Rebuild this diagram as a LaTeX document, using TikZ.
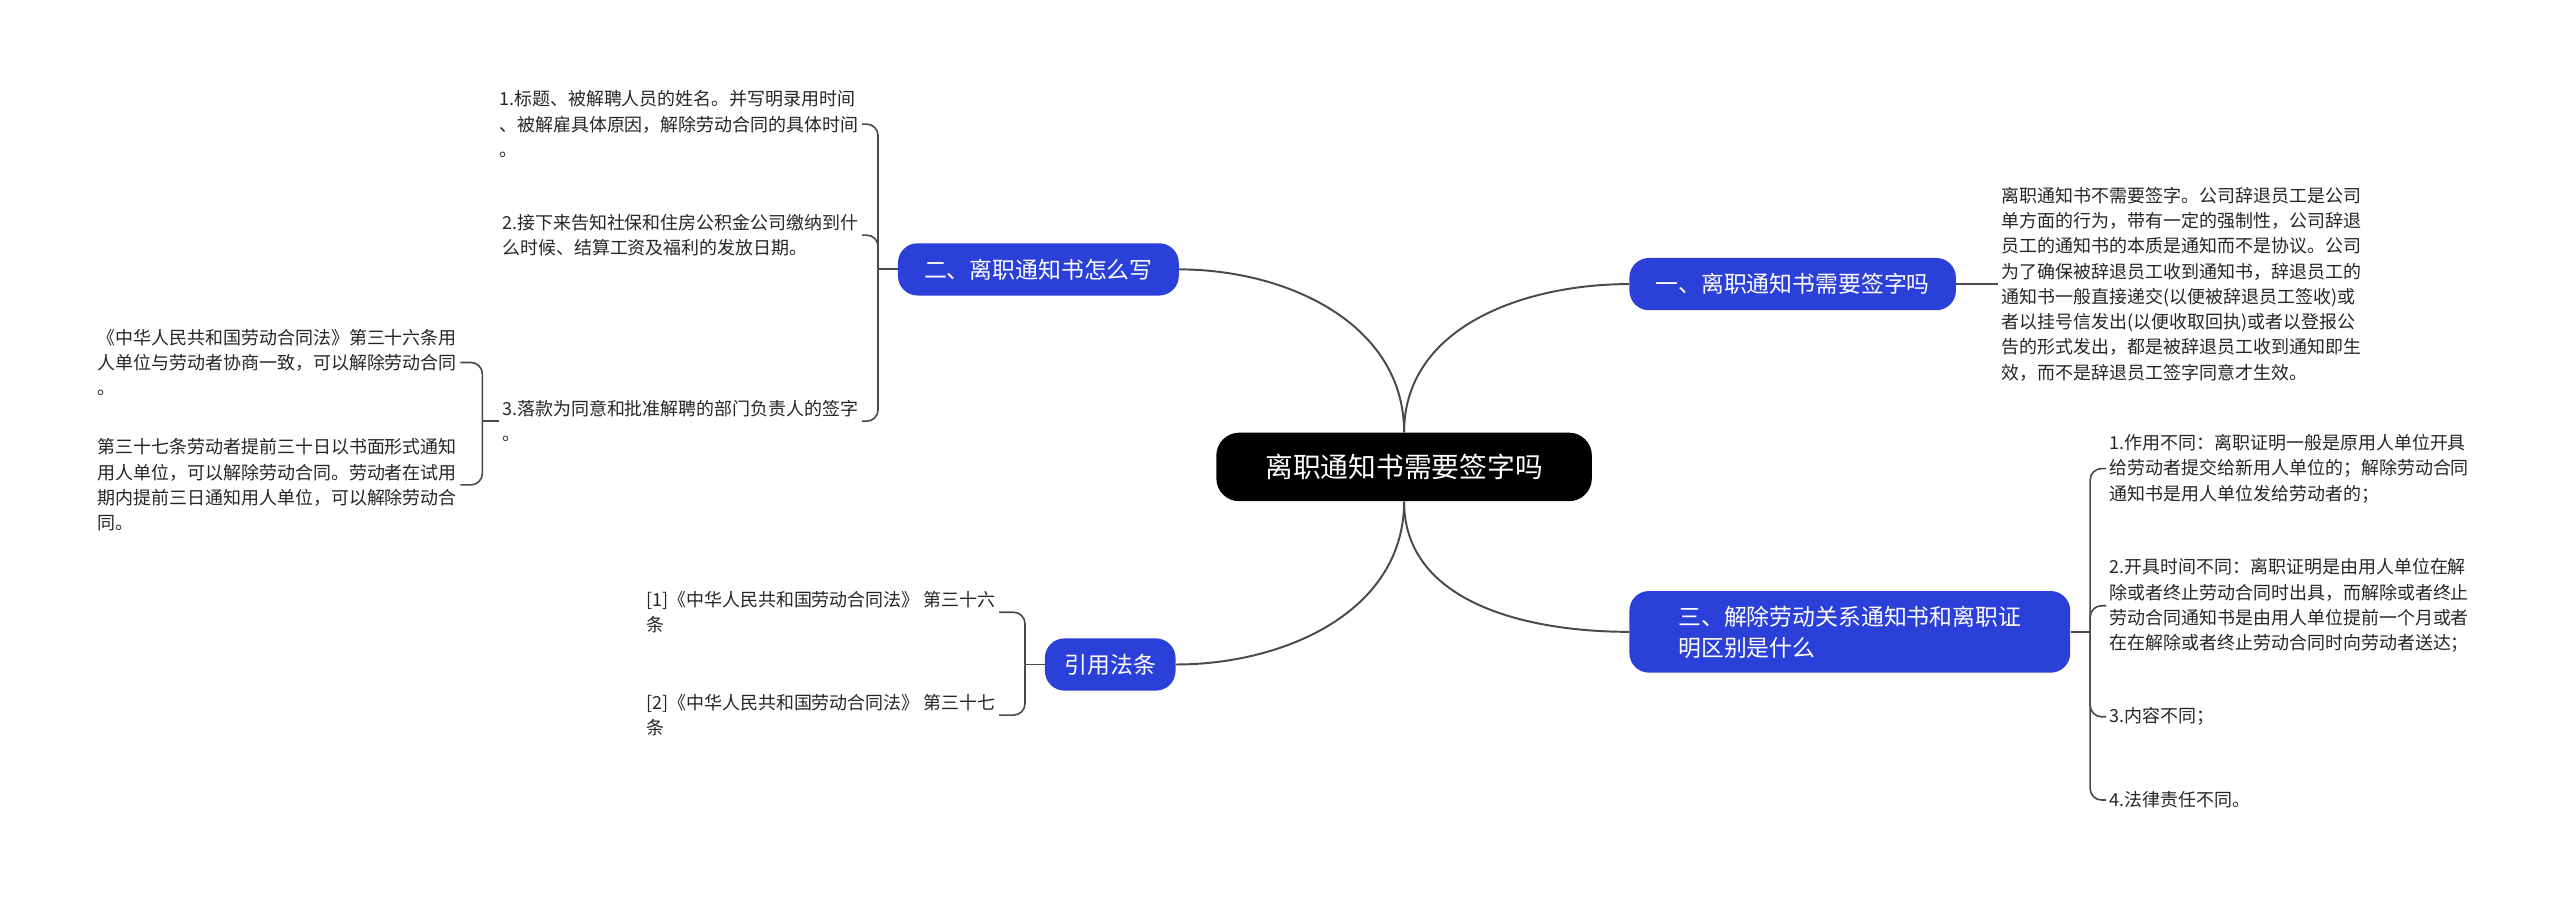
\documentclass[tikz,border=0pt]{standalone}
\usepackage{fontspec}
\setmainfont{Noto Sans CJK SC}
\usetikzlibrary{positioning}
\definecolor{topicblue}{HTML}{2B3FD9}
\definecolor{linegray}{HTML}{4A4A4A}
\tikzset{
  root/.style={fill=black,text=white,rounded corners=14pt,minimum width=230pt,minimum height=42pt,font=\fontsize{17}{20}\selectfont},
  topic/.style={fill=topicblue,text=white,rounded corners=12pt,minimum height=32pt,inner xsep=16pt,font=\fontsize{14}{19}\selectfont,align=left},
  leaf/.style={align=left,inner sep=2pt,font=\fontsize{11}{15.5}\selectfont,text=black!85},
  link/.style={draw=linegray,line width=1.2pt},
  twig/.style={draw=linegray,line width=1pt,rounded corners=7pt}
}
\begin{document}
\begin{tikzpicture}[x=1pt,y=-1pt]
    \useasboundingbox[fill=white] (0,0) rectangle (1568,549);

    \node[root] (root) at (860,286) {离职通知书需要签字吗};

    \node[topic] (b1) at (1098,174) {一、离职通知书需要签字吗};
    \node[topic] (b2) at (636,165) {二、离职通知书怎么写};
    \node[topic,minimum width=270pt,minimum height=50pt] (b3) at (1133,387) {三、解除劳动关系通知书和离职证\\明区别是什么};
    \node[topic,inner xsep=12pt] (b4) at (680,407) {引用法条};

    \draw[link] (root.north) to[out=90,in=180] (b1.west);
    \draw[link] (root.north) to[out=90,in=0] (b2.east);
    \draw[link] (root.south) to[out=-90,in=180] (b3.west);
    \draw[link] (root.south) to[out=-90,in=0] (b4.east);

    % branch 1
    \node[leaf,anchor=west] (l11) at (1224,174) {离职通知书不需要签字。公司辞退员工是公司\\单方面的行为，带有一定的强制性，公司辞退\\员工的通知书的本质是通知而不是协议。公司\\为了确保被辞退员工收到通知书，辞退员工的\\通知书一般直接递交(以便被辞退员工签收)或\\者以挂号信发出(以便收取回执)或者以登报公\\告的形式发出，都是被辞退员工收到通知即生\\效，而不是辞退员工签字同意才生效。};
    \draw[link] (b1.east) -- (l11.west);

    % branch 3
    \node[leaf,anchor=west] (l31) at (1290,287) {1.作用不同：离职证明一般是原用人单位开具\\给劳动者提交给新用人单位的；解除劳动合同\\通知书是用人单位发给劳动者的；};
    \node[leaf,anchor=west] (l32) at (1290,371) {2.开具时间不同：离职证明是由用人单位在解\\除或者终止劳动合同时出具，而解除或者终止\\劳动合同通知书是由用人单位提前一个月或者\\在在解除或者终止劳动合同时向劳动者送达；};
    \node[leaf,anchor=west] (l33) at (1290,439) {3.内容不同；};
    \node[leaf,anchor=west] (l34) at (1290,490) {4.法律责任不同。};
    \draw[link] (b3.east) -- ++(12,0) coordinate (k3);
    \foreach \n in {l31,l32,l33,l34}
        \draw[twig] (k3) |- (\n.west);

    % branch 2
    \node[leaf,anchor=east] (l21) at (528,76) {1.标题、被解聘人员的姓名。并写明录用时间\\、被解雇具体原因，解除劳动合同的具体时间\\。};
    \node[leaf,anchor=east] (l22) at (528,144) {2.接下来告知社保和住房公积金公司缴纳到什\\么时候、结算工资及福利的发放日期。};
    \node[leaf,anchor=east] (l23) at (528,258) {3.落款为同意和批准解聘的部门负责人的签字\\。};
    \draw[link] (b2.west) -- ++(-12,0) coordinate (k2);
    \foreach \n in {l21,l22,l23}
        \draw[twig] (k2) |- (\n.east);

    \node[leaf,anchor=east] (l231) at (282,222) {《中华人民共和国劳动合同法》第三十六条用\\人单位与劳动者协商一致，可以解除劳动合同\\。};
    \node[leaf,anchor=east] (l232) at (282,297) {第三十七条劳动者提前三十日以书面形式通知\\用人单位，可以解除劳动合同。劳动者在试用\\期内提前三日通知用人单位，可以解除劳动合\\同。};
    \draw[link] (l23.west) -- ++(-10,0) coordinate (k23);
    \foreach \n in {l231,l232}
        \draw[twig] (k23) |- (\n.east);

    % branch 4
    \node[leaf,anchor=east] (l41) at (612,375) {[1]《中华人民共和国劳动合同法》 第三十六\\条};
    \node[leaf,anchor=east] (l42) at (612,438) {[2]《中华人民共和国劳动合同法》 第三十七\\条};
    \draw[link] (b4.west) -- ++(-12,0) coordinate (k4);
    \foreach \n in {l41,l42}
        \draw[twig] (k4) |- (\n.east);
\end{tikzpicture}
\end{document}
